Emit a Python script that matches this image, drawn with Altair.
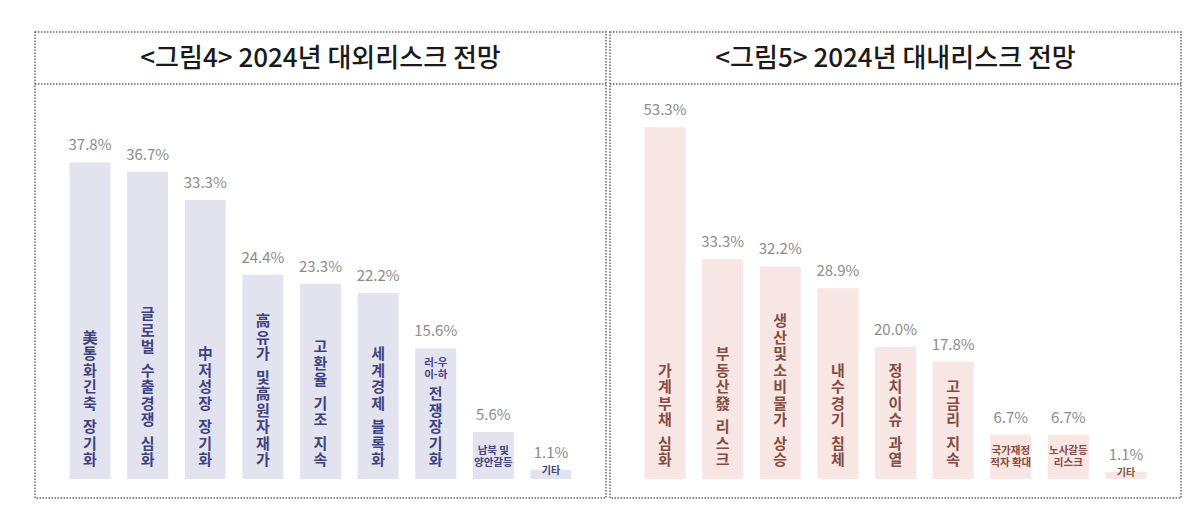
import altair as alt
import pandas as pd

# ---- data: external risks (figure 4) ----
ext_title = "<그림4> 2024년 대외리스크 전망"
ext_cats = ["美 통화긴축 장기화", "글로벌 수출경쟁 심화", "中 저성장 장기화", "高유가 및 高원자재가",
            "고환율 기조 지속", "세계경제 블록화", "러-우 이-하 전쟁장기화", "남북 및 양안갈등", "기타"]
ext_values = [37.8, 36.7, 33.3, 24.4, 23.3, 22.2, 15.6, 5.6, 1.1]
ext_vertical = ["美통화긴축 장기화", "글로벌 수출경쟁 심화", "中저성장 장기화", "高유가 및高원자재가",
                "고환율 기조 지속", "세계경제 블록화", "전쟁장기화", "", ""]
ext_small = ["", "", "", "", "", "", "러-우\n이-하", "남북 및\n양안갈등", "기타"]

# ---- data: internal risks (figure 5) ----
int_title = "<그림5> 2024년 대내리스크 전망"
int_cats = ["가계부채 심화", "부동산發 리스크", "생산 및 소비물가 상승", "내수경기 침체",
            "정치이슈 과열", "고금리 지속", "국가재정 적자 확대", "노사갈등 리스크", "기타"]
int_values = [53.3, 33.3, 32.2, 28.9, 20.0, 17.8, 6.7, 6.7, 1.1]
int_vertical = ["가계부채 심화", "부동산發 리스크", "생산및소비물가 상승", "내수경기 침체",
                "정치이슈 과열", "고금리 지속", "", "", ""]
int_small = ["", "", "", "", "", "", "국가재정\n적자 확대", "노사갈등\n리스크", "기타"]

FONT = "Noto Sans CJK KR"
W, H = 571, 466
FRAME = "#666666"
BIG_LH = 16.5
WORD_GAP = 7
SMALL_LH = 12
BASE_PX = 447


def panel(title, cats, values, vertical, small, bar_color, text_color, ymax, ytop_px):
    k = (BASE_PX - ytop_px) / ymax  # pixels per percent
    n_small = [len(s.split("\n")) for s in small]
    df = pd.DataFrame({
        "cat": cats,
        "v": values,
        "vtxt": [f"{v:.1f}%" for v in values],
        "small": small,
        "kind": ["big" if s else ("mid" if c == "기타" else "low")
                 for s, c in zip(vertical, cats)],
        "ysmall": [(13 + (m - 1) * SMALL_LH) / k for m in n_small],
    })
    # vertical (one character per line) labels, split into words stacked upward
    seg_rows = []
    for c, s in zip(cats, vertical):
        if not s:
            continue
        off = 14.0
        for w in reversed(s.split(" ")):
            first = off + (len(w) - 1) * BIG_LH
            seg_rows.append({"cat": c, "seg": "\n".join(w), "yseg": first / k})
            off = first + BIG_LH + WORD_GAP
    seg = pd.DataFrame(seg_rows)

    x = alt.X("cat:N", sort=None, axis=None,
              scale=alt.Scale(domain=cats, paddingInner=0.29, paddingOuter=0.6))
    sc = alt.Scale(domain=[0, ymax], range=[BASE_PX, ytop_px])
    y = alt.Y("v:Q", axis=None, scale=sc)
    base = alt.Chart(df)

    bars = base.mark_bar(color=bar_color).encode(x=x, y=y)
    vals = base.mark_text(font=FONT, fontSize=15, color="#8c8c8c", baseline="alphabetic",
                          dy=-12).encode(x=x, y=y, text="vtxt:N")
    big = alt.Chart(seg).mark_text(
        font=FONT, fontSize=15, fontWeight="bold", color=text_color, lineBreak="\n",
        lineHeight=BIG_LH, baseline="alphabetic"
    ).encode(x=x, y=alt.Y("yseg:Q", scale=sc, axis=None), text="seg:N")
    small_top = base.transform_filter("datum.kind == 'big' && datum.small != ''").mark_text(
        font=FONT, fontSize=10.5, fontWeight="bold", color=text_color, lineBreak="\n",
        lineHeight=SMALL_LH, baseline="top", dy=10
    ).encode(x=x, y=y, text="small:N")
    small_low = base.transform_filter("datum.kind == 'low'").mark_text(
        font=FONT, fontSize=10.5, fontWeight="bold", color=text_color, lineBreak="\n",
        lineHeight=SMALL_LH, baseline="alphabetic"
    ).encode(x=x, y=alt.Y("ysmall:Q", scale=sc, axis=None), text="small:N")
    small_mid = base.transform_filter("datum.kind == 'mid'").mark_text(
        font=FONT, fontSize=10, fontWeight="bold", color=text_color,
        baseline="middle", dy=1
    ).encode(x=x, y=y, text="small:N")

    tdf = pd.DataFrame({"t": [title]})
    ttl = alt.Chart(tdf).mark_text(font=FONT, fontSize=26, fontWeight=500, color="#1a1a1a",
                                   baseline="middle", align="center").encode(
        x=alt.value(W / 2), y=alt.value(27), text="t:N")
    sep = alt.Chart(tdf).mark_rule(color=FRAME, strokeWidth=1.5, strokeDash=[1.5, 1.5]).encode(
        x=alt.value(0), x2=alt.value(W), y=alt.value(52))

    return alt.layer(bars, vals, big, small_top, small_low, small_mid, ttl, sep).properties(
        width=W, height=H,
        view=alt.ViewBackground(stroke=FRAME, strokeWidth=1.5, strokeDash=[1.5, 1.5]))


left = panel(ext_title, ext_cats, ext_values, ext_vertical, ext_small,
             "#e3e3ef", "#3e4380", 40, 112)
right = panel(int_title, int_cats, int_values, int_vertical, int_small,
              "#f7e6e3", "#864c43", 55, 84)

chart = alt.hconcat(left, right, spacing=0).properties(
    padding={"left": 33, "top": 31, "right": 0, "bottom": 0}
).configure(background="white")

chart.save("out.html", embed_options={"renderer": "svg", "actions": False})
